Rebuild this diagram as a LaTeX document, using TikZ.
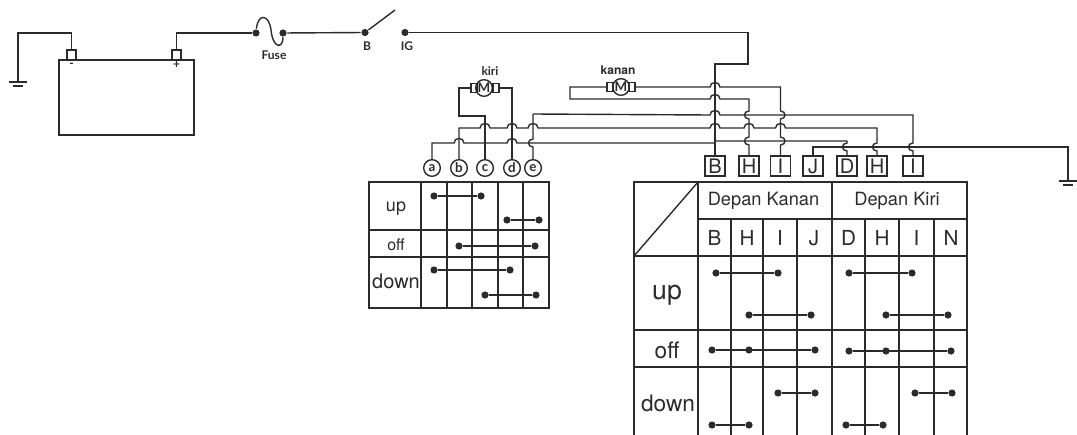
\documentclass[tikz,border=0pt]{standalone}
\usepackage{fontspec}
\setmainfont{TeX Gyre Heros}
\newfontfamily\gillfont{Lato}
\newfontfamily\arialfont{TeX Gyre Heros}
\definecolor{ink}{HTML}{2B2B2B}
\def\hh#1#2{-- (#1-5,#2) .. controls (#1-5,#2-6) and (#1+5,#2-6) .. (#1+5,#2)}
\def\vl#1#2{-- (#1,#2-4) .. controls (#1-6,#2-4) and (#1-6,#2+4) .. (#1,#2+4)}
\def\vr#1#2{-- (#1,#2-4) .. controls (#1+6,#2-4) and (#1+6,#2+4) .. (#1,#2+4)}
\begin{document}
\begin{tikzpicture}[x=0.75pt, y=-0.75pt, line width=1.05pt, draw=ink, text=ink]
    \tikzstyle{dot} = [circle, fill=ink, inner sep=0pt, minimum size=5.4pt]
    \tikzstyle{pin} = [circle, draw, inner sep=0pt, minimum size=12.5pt, font=\gillfont\bfseries\fontsize{10}{10}\selectfont]
    \tikzstyle{term} = [rectangle, draw, inner sep=0pt, minimum size=15pt, font=\arialfont\fontsize{15}{16}\selectfont]
    \tikzstyle{post} = [rectangle, draw, inner sep=0pt, minimum width=6.5pt, minimum height=7.5pt]
    \tikzstyle{brush} = [rectangle, draw, inner sep=0pt, minimum width=4.5pt, minimum height=6.5pt]
    \tikzstyle{motor} = [circle, draw, inner sep=0pt, minimum size=12.5pt, font=\gillfont\bfseries\fontsize{10}{10}\selectfont]
    \tikzstyle{tag} = [inner sep=0pt, font=\gillfont\bfseries\fontsize{9}{10}\selectfont]
    \tikzstyle{cell} = [inner sep=0pt]
    \useasboundingbox (0,0) rectangle (1077,435);

    \node[draw, inner sep=0pt, minimum width=101pt, minimum height=56pt] (bat) at (126.5,97.5) {};
    \node[post] (batneg) at (71.5,55) {};
    \node[post] (batpos) at (176.5,55) {};
    \node[tag] (negsign) at (71.5,65) {-};
    \node[tag] (possign) at (176.5,65) {+};
    \coordinate (gndl) at (18,82);
    \coordinate (gndr) at (1068,181);
    \foreach \g in {gndl,gndr} {
        \draw ([xshift=-6.5pt]\g) -- ([xshift=6.5pt]\g);
        \draw ([xshift=-4pt,yshift=-3pt]\g) -- ([xshift=4pt,yshift=-3pt]\g);
    }
    \draw (batneg.north) -- (71.5,33) -| (gndl);

    \node[dot] (fusea) at (256,33) {};
    \node[dot] (fuseb) at (283,33) {};
    \node[dot] (swb) at (365,32.5) {};
    \node[dot] (swig) at (405,32.5) {};
    \coordinate (swtip) at (395,10);
    \node[tag] (fuselabel) at (274,55) {Fuse};
    \node[tag] (blabel) at (367,46) {B};
    \node[tag] (iglabel) at (407,46) {IG};
    \draw (batpos.north) -- (176.5,33) -- (fusea);
    \draw (fusea) .. controls (258,13) and (269,14) .. (271,30) .. controls (273,49) and (283,49) .. (fuseb);
    \draw (fuseb) -- (swb);
    \draw (swb) -- (swtip);

    \node[motor] (mkiri) at (484,88) {M};
    \node[brush] (mkiril) at (474,88) {};
    \node[brush] (mkirir) at (496,88) {};
    \node[tag] (kirilabel) at (490,71) {kiri};
    \node[motor] (mkanan) at (621,87) {M};
    \node[brush] (mkananl) at (610,87) {};
    \node[brush] (mkananr) at (632,87) {};
    \node[tag, font=\arialfont\bfseries\fontsize{9}{10}\selectfont] (kananlabel) at (618,70) {kanan};

    \foreach \n/\x in {a/432,b/459,c/485,d/512,e/533} {
        \node[pin] (p\n) at (\x,168) {\n};
    }
    \foreach \n/\t/\x in {tb/B/715,th/H/749,ti/I/780.5,tj/J/813,td/D/847,tm/H/877,tn/I/913} {
        \node[term] (\n) at (\x,166) {\t};
    }

    \draw (mkiril) -- (459,88) -- (459,116) -- (485,116) -- (pc.north);
    \draw (mkirir) -- (512,88) -- (pd.north);
    \draw (mkananl) -- (570,87) -- (570,99) \hh{715}{99} -- (749,99) \vl{749}{115} \vl{749}{141} -- (th.north);
    \draw (mkananr) \hh{715}{87} -- (780.5,87) \vr{780.5}{115} \vr{780.5}{141} -- (ti.north);
    \draw (swig) -- (748,32.5) -- (748,64) -- (715,64) -- (tb.north);

    \draw (pa.north) -- (432,143) \hh{459}{143} \hh{512}{143} -- (715,143) -- (715,141) -- (847,141) \vl{847}{147} -- (td.north);
    \draw (pb.north) -- (459,128) \hh{485}{128} \hh{512}{128} \hh{533}{128} \hh{715}{128} \hh{749}{128} \hh{780.5}{128} -- (877,128) \vl{877}{147} -- (tm.north);
    \coordinate (ecorner) at (533,114);
    \draw (ecorner) \vl{533}{143} -- (pe.north);
    \draw (ecorner) \hh{715}{115} -- (913,115) \vl{913}{147} -- (tn.north);
    \draw (tj.north) -- (813,147) -| (gndr);

    \draw (369,182) rectangle (549,308);
    \foreach \x in {421,447,472,498,523} {
        \draw (\x,182) -- (\x,308);
    }
    \foreach \y in {230,257} {
        \draw (369,\y) -- (549,\y);
    }
    \node[cell, font=\arialfont\fontsize{13.5}{15}\selectfont] (lup) at (396,209) {up};
    \node[cell, font=\arialfont\fontsize{12}{14}\selectfont] (loff) at (396,245) {off};
    \node[cell, font=\arialfont\fontsize{15}{17}\selectfont] (ldown) at (396,281) {down};
    \foreach \n/\xa/\xb/\y in {1/434/481/196,2/507/539/220,3/459/535/246,4/434/510/270,5/485/536/295,
        6/716/778/273,7/749/811/315,8/712/815/350,9/778/815/393,10/712/749/425,
        11/849/912/273,12/886/948/315,13/849/951/351,14/915/952/393,15/846/883/425} {
        \node[dot] (sa\n) at (\xa,\y) {};
        \node[dot] (sb\n) at (\xb,\y) {};
        \draw (sa\n) -- (sb\n);
    }
    \node[dot] (sc8) at (749,350) {};
    \node[dot] (sc13) at (886,351) {};

    \draw (634,435) -- (634,182) -- (967,182) -- (967,435);
    \draw (634,256) -- (698,182);
    \draw (698,219) -- (967,219);
    \draw (634,256) -- (967,256);
    \draw (634,330) -- (967,330);
    \draw (634,367) -- (967,367);
    \draw (698,182) -- (698,435);
    \draw[line width=2.2pt] (832,182) -- (832,435);
    \foreach \x in {731,763,797,865,899,934} {
        \draw (\x,219) -- (\x,435);
    }
    \node[cell, font=\arialfont\fontsize{13.7}{15}\selectfont] (hkanan) at (763.5,201) {Depan Kanan};
    \node[cell, font=\arialfont\fontsize{13.7}{15}\selectfont] (hkiri) at (897,201) {Depan Kiri};
    \foreach \n/\t/\x in {b/B/714.5,h/H/747,i/I/780,j/J/814,d/D/848.5,m/H/882,n/I/916.5,o/N/951} {
        \node[cell, font=\arialfont\fontsize{15.5}{17}\selectfont] (c\n) at (\x,238) {\t};
    }
    \node[cell, font=\arialfont\fontsize{20}{22}\selectfont] (rup) at (667,295) {up};
    \node[cell, font=\arialfont\fontsize{17}{19}\selectfont] (roff) at (667,350) {off};
    \node[cell, font=\arialfont\fontsize{17}{19}\selectfont] (rdown) at (668,403) {down};
\end{tikzpicture}
\end{document}
